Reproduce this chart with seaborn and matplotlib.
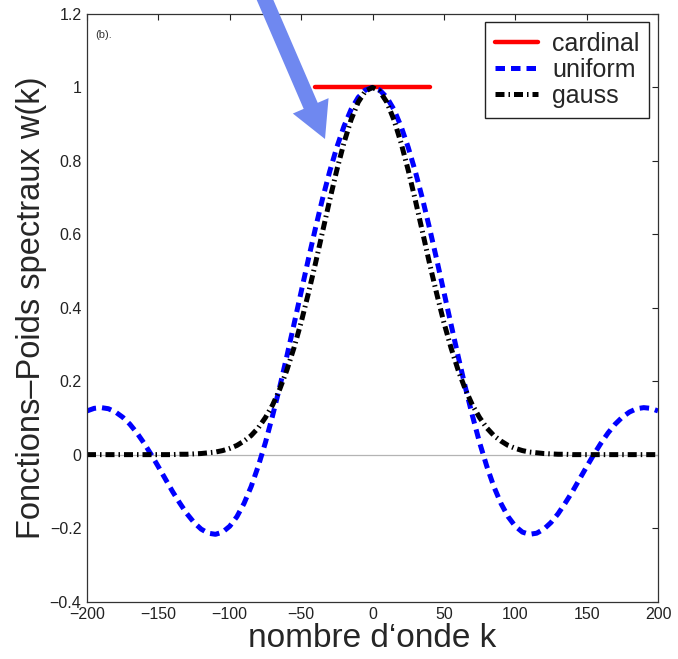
import numpy as np
import matplotlib
matplotlib.use("Agg")
import matplotlib.pyplot as plt
import seaborn as sns

# wave number grid (step 5)
k = np.arange(-200, 205, 5)

uniform_w = [0.119, 0.126, 0.128, 0.125, 0.116, 0.102, 0.083, 0.059, 0.031, 0.000,
             -0.033, -0.067, -0.101, -0.132, -0.161, -0.185, -0.203, -0.214, -0.217, -0.211,
             -0.195, -0.169, -0.133, -0.087, -0.031, 0.033, 0.106, 0.184, 0.268, 0.355,
             0.443, 0.531, 0.616, 0.697, 0.771, 0.837, 0.894, 0.940, 0.973, 0.993,
             1.000,
             0.993, 0.973, 0.940, 0.894, 0.837, 0.771, 0.697, 0.616, 0.531, 0.443,
             0.355, 0.268, 0.184, 0.106, 0.033, -0.031, -0.087, -0.133, -0.169, -0.195,
             -0.211, -0.217, -0.214, -0.203, -0.185, -0.161, -0.132, -0.101, -0.067, -0.033,
             0.000, 0.031, 0.059, 0.083, 0.102, 0.116, 0.125, 0.128, 0.126, 0.119]

gauss_w = [0.000, 0.000, 0.000, 0.000, 0.000, 0.000, 0.000, 0.000, 0.000, 0.000,
           0.000, 0.000, 0.000, 0.001, 0.001, 0.002, 0.003, 0.005, 0.007, 0.011,
           0.017, 0.025, 0.037, 0.052, 0.073, 0.101, 0.135, 0.178, 0.230, 0.291,
           0.360, 0.438, 0.520, 0.607, 0.693, 0.775, 0.849, 0.912, 0.960, 0.990,
           1.000,
           0.990, 0.960, 0.912, 0.849, 0.775, 0.693, 0.607, 0.520, 0.438, 0.360,
           0.291, 0.230, 0.178, 0.135, 0.101, 0.073, 0.052, 0.037, 0.025, 0.017,
           0.011, 0.007, 0.005, 0.003, 0.002, 0.001, 0.001, 0.000, 0.000, 0.000,
           0.000, 0.000, 0.000, 0.000, 0.000, 0.000, 0.000, 0.000, 0.000, 0.000]

cardinal_k = [-40, 40]
cardinal_w = [1.0, 1.0]

xticks = [-200, -150, -100, -50, 0, 50, 100, 150, 200]
xticklabels = ['\u2212200', '\u2212150', '\u2212100', '\u221250', '0', '50', '100', '150', '200']
yticks = [-0.4, -0.2, 0.0, 0.2, 0.4, 0.6, 0.8, 1.0, 1.2]
yticklabels = ['\u22120.4', '\u22120.2', '0', '0.2', '0.4', '0.6', '0.8', '1', '1.2']

sns.set_style("white")
plt.rcParams['font.family'] = ['Liberation Sans', 'DejaVu Sans']

fig = plt.figure(figsize=(6.78, 6.59), dpi=100)
W, H = 678, 659
left, right, top, bottom = 87, 658, 14, 601.5
ax = fig.add_axes([left / W, 1 - bottom / H, (right - left) / W, (bottom - top) / H])

ax.axhline(0, color='#b4b4b4', lw=0.9, zorder=1)

sns.lineplot(x=cardinal_k, y=cardinal_w, ax=ax, color='#ff0000', lw=3.2,
             label='cardinal', solid_capstyle='round')
sns.lineplot(x=k, y=uniform_w, ax=ax, color='#0000ff', lw=3.6, label='uniform')
ax.lines[-1].set_dashes([1.9, 1.2])
sns.lineplot(x=k, y=gauss_w, ax=ax, color='#000000', lw=3.6, label='gauss')
ax.lines[-1].set_dashes([1.8, 0.8, 0.3, 0.8])

ax.set_xlim(-200, 200)
ax.set_ylim(-0.4, 1.2)
ax.set_xticks(xticks)
ax.set_xticklabels(xticklabels)
ax.set_yticks(yticks)
ax.set_yticklabels(yticklabels)
ax.tick_params(direction='in', length=4, width=0.8, top=True, right=True,
               labelsize=11.5, colors='#222222', pad=4)
for s in ax.spines.values():
    s.set_visible(True)
    s.set_color('#333333')
    s.set_linewidth(0.9)

ax.set_xlabel('nombre d\u2018onde k', fontsize=24, labelpad=1)
ax.set_ylabel('Fonctions\u2013Poids spectraux w(k)', fontsize=23.5, labelpad=2)

leg = ax.legend(loc='upper right', bbox_to_anchor=(0.985, 0.987), borderaxespad=0,
                fontsize=18, handlelength=1.75, handletextpad=0.55, labelspacing=0.08,
                borderpad=0.4, fancybox=False, framealpha=1, edgecolor='#222222')
leg.get_frame().set_linewidth(1.0)

ax.text(0.014, 0.972, '(b).', transform=ax.transAxes, fontsize=8, color='#333333',
        va='top', ha='left')

ax.annotate('', xy=(325, H - 139), xycoords='figure pixels',
            xytext=(256, H + 21), textcoords='figure pixels',
            arrowprops=dict(facecolor='#6f88f0', edgecolor='none', width=11,
                            headwidth=28, headlength=26, shrink=0),
            annotation_clip=False)

fig.savefig('out.png', dpi=100)
